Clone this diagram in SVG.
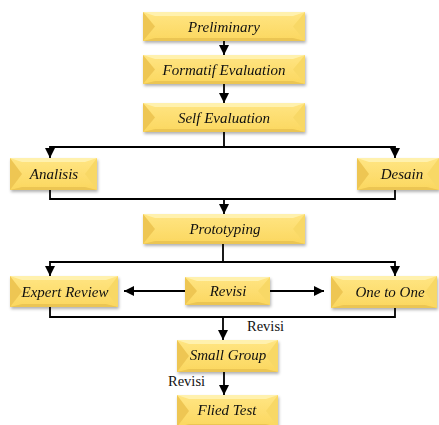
<svg xmlns="http://www.w3.org/2000/svg" width="439" height="425" viewBox="0 0 439 425">
<defs>
<linearGradient id="face" x1="0" y1="0" x2="0" y2="1">
<stop offset="0" stop-color="#FFE583"/>
<stop offset="1" stop-color="#FBD75F"/>
</linearGradient>
<filter id="sh" x="-10%" y="-20%" width="120%" height="150%">
<feDropShadow dx="1" dy="2" stdDeviation="1.5" flood-color="#000" flood-opacity="0.3"/>
</filter>
<marker id="ah" markerUnits="userSpaceOnUse" markerWidth="10" markerHeight="10" viewBox="0 0 10 10" refX="10" refY="5" orient="auto">
<path d="M0,0 L10,5 L0,10 Z" fill="#000"/>
</marker>
</defs>
<style>
.face{fill:url(#face)}
.t{fill:#FFF1AE}
.b{fill:#EBC552}
.l{fill:#EEC653}
.r{fill:#F8D866}
.lbl{font-family:"Liberation Serif","Times New Roman",serif;font-style:italic;font-size:15px;fill:#111;text-anchor:middle;dominant-baseline:central}
.rv{font-family:"Liberation Serif","Times New Roman",serif;font-size:14.5px;fill:#111}
.c{fill:none;stroke:#000;stroke-width:1.8}
.a{marker-end:url(#ah)}
</style>

<g id="connectors">
<line class="c a" x1="224" y1="41" x2="224" y2="55"/>
<line class="c a" x1="224" y1="84" x2="224" y2="103"/>
<line class="c" x1="224" y1="132" x2="224" y2="147"/>
<polyline class="c a" points="224,147 50,147 50,158"/>
<polyline class="c a" points="224,147 395,147 395,158"/>
<polyline class="c" points="50,190 50,199 395,199 395,190"/>
<line class="c a" x1="224" y1="199" x2="224" y2="214"/>
<line class="c" x1="223" y1="244" x2="223" y2="262"/>
<polyline class="c a" points="223,262 50,262 50,276"/>
<polyline class="c a" points="223,262 395,262 395,276"/>
<line class="c a" x1="185" y1="291" x2="124" y2="291"/>
<line class="c a" x1="270" y1="291" x2="324" y2="291"/>
<polyline class="c" points="50,307 50,317 395,317 395,308"/>
<line class="c a" x1="223" y1="317" x2="223" y2="340"/>
<line class="c a" x1="224" y1="372" x2="224" y2="395"/>
</g>

<g id="preliminary" filter="url(#sh)">
<rect class="face" x="143" y="12" width="162" height="29"/>
<polygon class="t" points="143,12 305,12 293,16 155,16"/>
<polygon class="b" points="143,41 305,41 293,38 155,38"/>
<polygon class="l" points="143,12 155,26.5 143,41"/>
<polygon class="r" points="305,12 293,26.5 305,41"/>
<text class="lbl" x="224" y="26.5">Preliminary</text>
</g>

<g id="formatif" filter="url(#sh)">
<rect class="face" x="143" y="55" width="162" height="29"/>
<polygon class="t" points="143,55 305,55 293,59 155,59"/>
<polygon class="b" points="143,84 305,84 293,81 155,81"/>
<polygon class="l" points="143,55 155,69.5 143,84"/>
<polygon class="r" points="305,55 293,69.5 305,84"/>
<text class="lbl" x="224" y="69.5">Formatif Evaluation</text>
</g>

<g id="self" filter="url(#sh)">
<rect class="face" x="143" y="103" width="162" height="29"/>
<polygon class="t" points="143,103 305,103 293,107 155,107"/>
<polygon class="b" points="143,132 305,132 293,129 155,129"/>
<polygon class="l" points="143,103 155,117.5 143,132"/>
<polygon class="r" points="305,103 293,117.5 305,132"/>
<text class="lbl" x="224" y="117.5">Self Evaluation</text>
</g>

<g id="analisis" filter="url(#sh)">
<rect class="face" x="10" y="158" width="87" height="32"/>
<polygon class="t" points="10,158 97,158 85,162 22,162"/>
<polygon class="b" points="10,190 97,190 85,187 22,187"/>
<polygon class="l" points="10,158 22,174 10,190"/>
<polygon class="r" points="97,158 85,174 97,190"/>
<text class="lbl" x="54" y="174">Analisis</text>
</g>

<g id="desain" filter="url(#sh)">
<rect class="face" x="357" y="158" width="82" height="32"/>
<polygon class="t" points="357,158 439,158 427,162 369,162"/>
<polygon class="b" points="357,190 439,190 427,187 369,187"/>
<polygon class="l" points="357,158 369,174 357,190"/>
<polygon class="r" points="439,158 427,174 439,190"/>
<text class="lbl" x="402" y="174">Desain</text>
</g>

<g id="prototyping" filter="url(#sh)">
<rect class="face" x="143" y="214" width="162" height="30"/>
<polygon class="t" points="143,214 305,214 293,218 155,218"/>
<polygon class="b" points="143,244 305,244 293,241 155,241"/>
<polygon class="l" points="143,214 155,229 143,244"/>
<polygon class="r" points="305,214 293,229 305,244"/>
<text class="lbl" x="225" y="229">Prototyping</text>
</g>

<g id="expert" filter="url(#sh)">
<rect class="face" x="10" y="276" width="108" height="31"/>
<polygon class="t" points="10,276 118,276 106,280 22,280"/>
<polygon class="b" points="10,307 118,307 106,304 22,304"/>
<polygon class="l" points="10,276 22,291.5 10,307"/>
<polygon class="r" points="118,276 106,291.5 118,307"/>
<text class="lbl" x="65" y="291.5">Expert Review</text>
</g>

<g id="revisi" filter="url(#sh)">
<rect class="face" x="185" y="277" width="85" height="28"/>
<polygon class="t" points="185,277 270,277 258,281 197,281"/>
<polygon class="b" points="185,305 270,305 258,302 197,302"/>
<polygon class="l" points="185,277 197,291 185,305"/>
<polygon class="r" points="270,277 258,291 270,305"/>
<text class="lbl" x="228" y="291">Revisi</text>
</g>

<g id="onetoone" filter="url(#sh)">
<rect class="face" x="331" y="276" width="106" height="32"/>
<polygon class="t" points="331,276 437,276 425,280 343,280"/>
<polygon class="b" points="331,308 437,308 425,305 343,305"/>
<polygon class="l" points="331,276 343,292 331,308"/>
<polygon class="r" points="437,276 425,292 437,308"/>
<text class="lbl" x="390" y="292">One to One</text>
</g>

<g id="smallgroup" filter="url(#sh)">
<rect class="face" x="177" y="340" width="101" height="32"/>
<polygon class="t" points="177,340 278,340 266,344 189,344"/>
<polygon class="b" points="177,372 278,372 266,369 189,369"/>
<polygon class="l" points="177,340 189,356 177,372"/>
<polygon class="r" points="278,340 266,356 278,372"/>
<text class="lbl" x="228" y="355">Small Group</text>
</g>

<g id="fliedtest" filter="url(#sh)">
<rect class="face" x="177" y="395" width="101" height="32"/>
<polygon class="t" points="177,395 278,395 266,399 189,399"/>
<polygon class="b" points="177,427 278,427 266,424 189,424"/>
<polygon class="l" points="177,395 189,411 177,427"/>
<polygon class="r" points="278,395 266,411 278,427"/>
<text class="lbl" x="227" y="410">Flied Test</text>
</g>

<g id="labels">
<text class="rv" x="247" y="331">Revisi</text>
<text class="rv" x="168" y="386">Revisi</text>
</g>
</svg>
